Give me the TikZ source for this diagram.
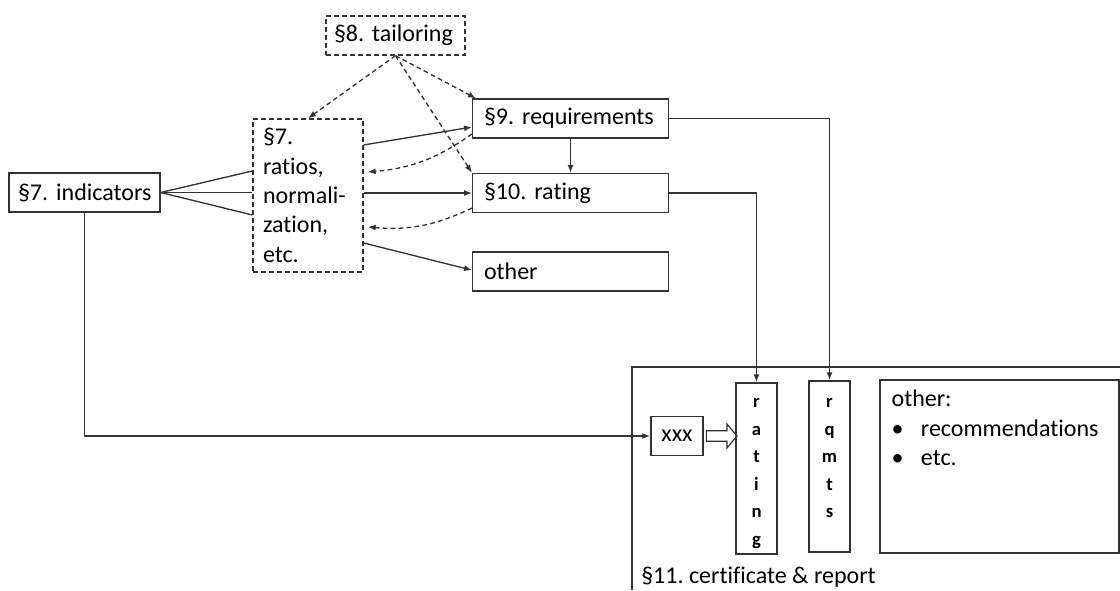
\documentclass[tikz,border=0pt]{standalone}
\usepackage{fontspec}
\setmainfont{Carlito}[Ligatures=NoCommon]
\usetikzlibrary{arrows, arrows.meta, shapes.arrows, calc}
\hyphenpenalty=10000
\frenchspacing
\tikzstyle{box} = [draw=black!80, line width=1pt, rectangle, inner xsep=7.5pt, inner ysep=0pt, minimum height=29.25pt, align=left]
\tikzstyle{dbox} = [box, dash pattern=on 3.5pt off 2.5pt]
\tikzstyle{letters} = [draw=black!80, line width=1pt, inner sep=0pt, minimum width=30.75pt, font=\fontsize{14}{20.6}\selectfont\bfseries]
\tikzstyle{arrow} = [draw=black!80, line width=1pt, -{Latex[length=6pt, width=4.5pt]}]
\tikzstyle{darrow} = [arrow, dash pattern=on 3.5pt off 2.5pt]
\tikzstyle{line} = [draw=black!80, line width=1pt]

\begin{document}
\begin{tikzpicture}[x=0.75pt, y=0.75pt, font=\fontsize{18}{22}\selectfont]
        \useasboundingbox (0,0) rectangle (1120,-590);

        % upper part
        \node[dbox, text width=92.25pt, inner xsep=6pt] (tail) at (395.5,-35.5) {§8.~tailoring};
        \node[dbox, text width=67.5pt, minimum height=114.75pt] (rto) at (308,-195.5)
            {§7.\\ratios,\\normali-\\zation,\\etc.};
        \node[box, text width=99.75pt, inner xsep=6.75pt] (ind) at (84.5,-192.5) {\mbox{§7. indicators}};
        \node[box, text width=129.75pt, inner xsep=8.5pt] (req) at (570.5,-118.5) {§9.~requirements};
        \node[box, text width=129.75pt, inner xsep=8.5pt] (rat) at (570.5,-193) {§10.~rating};
        \node[box, text width=129.75pt, inner xsep=8.5pt] (oth) at (570.5,-271.5) {other};

        % certificate
        \draw[line] (1120,-367) -| (632,-590);
        \node[anchor=base west, inner sep=0pt] (cert) at (641,-583) {§11. certificate \& report};
        \node[box, align=center, minimum width=39pt, inner xsep=0pt] (xxx) at (677,-436) {xxx};
        \node[letters] (vrat) at (756.5,-468.5)
            {\parbox[c][128.25pt][t]{20pt}{\centering\vspace*{11.8pt}r\\a\\t\\i\\n\\g}};
        \node[letters] (vreq) at (829.5,-466.5)
            {\parbox[c][128.25pt][t]{20pt}{\centering\vspace*{13.3pt}r\\q\\m\\t\\s}};
        \node[box, minimum width=179.25pt, minimum height=129.75pt] (othr) at (999.5,-466.5) {};
        \node[anchor=north west, inner sep=0pt, align=left] (othrtxt) at ([xshift=9pt,yshift=-8pt]othr.north west)
            {other:\\
             \makebox[22pt][l]{\textbullet}recommendations\\
             \makebox[22pt][l]{\textbullet}etc.};
        \node[draw=black!80, line width=0.9pt, single arrow, inner sep=3.5pt, single arrow head extend=5pt,
            single arrow tip angle=100, minimum height=23pt] (imp) at ($(xxx.east)!0.5!(xxx.east -| vrat.west)$) {};

        % fan into ratios
        \draw[line] (ind.east) -- ([yshift=18.4pt]rto.west);
        \draw[line] (ind.east) -- (ind.east -| rto.west);
        \draw[line] (ind.east) -- ([yshift=-14.6pt]rto.west);

        % ratios to outputs
        \draw[arrow] ([yshift=37.9pt]rto.east) -- ([yshift=-6.4pt]req.west);
        \draw[arrow] (rto.east |- rat.west) -- (rat.west);
        \draw[arrow] ([yshift=-35.6pt]rto.east) -- ([yshift=1pt]oth.west);
        \draw[arrow] (req.south) -- (rat.north);

        % tailoring
        \draw[darrow] (tail.south) -- (rto.north);
        \draw[darrow] (tail.south) -- ([xshift=3pt]req.north west);
        \draw[darrow] (tail.south) -- (rat.north west);
        \draw[darrow] ([yshift=-11.6pt]req.west) to[bend left=15] ([xshift=3pt,yshift=17.6pt]rto.east);
        \draw[darrow] ([yshift=-11.3pt]rat.west) to[bend left=15] ([xshift=3pt,yshift=-23.6pt]rto.east);

        % into certificate
        \draw[arrow] (req.east) -| (vreq.north);
        \draw[arrow] (rat.east) -| (vrat.north);
        \draw[arrow] (ind.south) |- (xxx.west);
    \end{tikzpicture}
\end{document}
